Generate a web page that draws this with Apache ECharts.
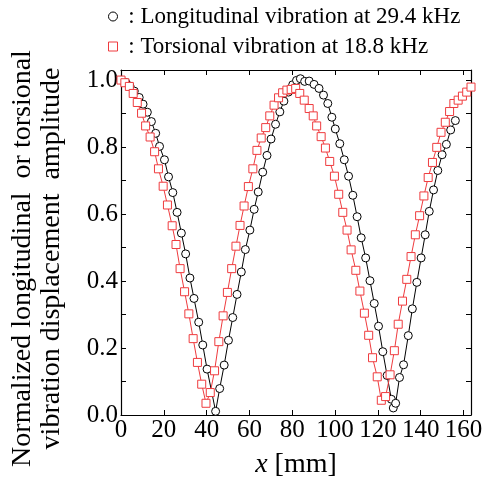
<!DOCTYPE html>
<html><head><meta charset="utf-8">
<script src="https://cdn.jsdelivr.net/npm/echarts@6/dist/echarts.min.js"></script>
<style>html,body{margin:0;padding:0;background:#fff}#c{width:491px;height:484px}</style>
</head><body><div id="c"></div>
<script>
const longName = 'Longitudinal vibration at 29.4 kHz';
const torsName = 'Torsional vibration at 18.8 kHz';
const longX = [0.2,2.2,4.2,6.2,8.5,10.3,12.3,14.2,16.2,18.0,20.3,22.2,24.2,26.2,28.2,30.2,32.2,34.1,36.3,38.2,40.2,44.2,46.1,48.2,50.2,52.2,54.2,56.2,58.1,60.2,62.2,64.1,66.2,68.2,70.1,72.2,74.2,76.1,78.2,80.2,82.0,83.8,85.8,87.9,90.2,92.5,94.6,96.6,98.5,100.1,102.2,104.3,106.3,108.3,110.3,112.2,114.3,116.3,118.3,120.3,122.3,124.3,126.3,127.2,128.3,130.1,132.0,134.2,136.1,138.2,140.2,142.1,144.0,146.0,148.0,150.0,152.0,154.0,156.2];
const longY = [1.000,0.993,0.982,0.967,0.948,0.928,0.904,0.876,0.841,0.802,0.762,0.711,0.664,0.605,0.543,0.481,0.409,0.348,0.277,0.209,0.137,0.011,0.079,0.149,0.223,0.291,0.360,0.427,0.494,0.552,0.614,0.666,0.725,0.775,0.824,0.868,0.905,0.937,0.964,0.986,0.999,1.004,0.996,0.997,0.987,0.975,0.955,0.930,0.889,0.854,0.810,0.762,0.713,0.656,0.592,0.529,0.469,0.401,0.333,0.265,0.189,0.118,0.047,0.021,0.035,0.112,0.150,0.237,0.317,0.396,0.469,0.538,0.608,0.672,0.730,0.777,0.808,0.851,0.879];
const torsX = [0.0,1.8,3.9,5.7,7.6,9.6,11.5,13.6,15.7,17.5,19.7,21.7,23.9,25.7,27.6,29.7,31.7,33.7,35.7,37.7,39.7,41.7,43.7,45.7,47.7,49.7,51.7,53.7,55.6,57.5,59.5,61.6,63.5,65.5,67.6,69.5,71.5,73.6,75.5,77.5,79.5,81.6,83.5,85.6,87.9,89.8,91.4,93.5,95.5,97.5,99.7,101.7,103.6,105.6,107.5,109.7,111.6,113.7,115.7,117.5,119.7,121.6,123.6,125.7,127.7,129.5,131.5,133.5,135.5,137.5,139.5,141.5,143.5,145.5,147.5,149.5,151.5,153.5,155.5,157.5,159.5,161.5,163.5];
const torsY = [1.000,0.992,0.981,0.960,0.933,0.901,0.863,0.830,0.786,0.735,0.683,0.627,0.565,0.509,0.437,0.368,0.302,0.228,0.157,0.092,0.035,0.067,0.132,0.219,0.296,0.366,0.437,0.504,0.566,0.624,0.682,0.735,0.790,0.827,0.858,0.893,0.925,0.947,0.962,0.970,0.972,0.975,0.960,0.940,0.915,0.893,0.863,0.831,0.797,0.757,0.713,0.659,0.605,0.552,0.493,0.432,0.370,0.304,0.238,0.171,0.114,0.044,0.055,0.120,0.192,0.271,0.340,0.405,0.473,0.538,0.595,0.654,0.709,0.754,0.799,0.844,0.874,0.906,0.930,0.940,0.952,0.964,0.979];

const FONT = 'Liberation Serif';
const RED = '#ef3b3e';
const zip = (xs, ys) => xs.map((x, i) => [x, ys[i]]);

const xLabel = v => (Math.abs(v / 20 - Math.round(v / 20)) < 1e-6) ? String(Math.round(v)) : '';
const yLabel = v => {
  const t = v * 10;
  return (Math.abs(t - Math.round(t)) < 1e-6 && Math.round(t) % 2 === 0) ? v.toFixed(1) : '';
};
const axisCommon = {
  axisLine: { show: true, onZero: false, lineStyle: { color: '#000', width: 1.2 } },
  axisTick: { show: true, inside: true, length: 5, lineStyle: { color: '#000', width: 1 } },
  splitLine: { show: false }
};

const chart = echarts.init(document.getElementById('c'), null, { renderer: 'canvas' });
chart.setOption({
  animation: false,
  backgroundColor: '#fff',
  grid: { left: 116, right: 20, top: 70, bottom: 66, containLabel: false },
  legend: {
    orient: 'vertical', left: 108, top: 5, padding: 0, itemGap: 7, itemWidth: 9, itemHeight: 9,
    textStyle: { fontFamily: FONT, fontSize: 23, color: '#000' },
    formatter: n => ' : ' + n,
    data: [
      { name: longName, icon: 'circle', itemStyle: { color: '#fff', borderColor: '#000', borderWidth: 1 } },
      { name: torsName, icon: 'rect', itemStyle: { color: '#fff', borderColor: RED, borderWidth: 1 } }
    ]
  },
  xAxis: [
    Object.assign({
      type: 'value', min: 0, max: 163.5, interval: 20, position: 'bottom',
      axisLabel: { formatter: xLabel, fontFamily: FONT, fontSize: 25, color: '#000', margin: 3 },
      name: '{i|x} [mm]', nameLocation: 'middle', nameGap: 36,
      nameTextStyle: { fontFamily: FONT, fontSize: 28, color: '#000',
        rich: { i: { fontFamily: FONT, fontSize: 28, fontStyle: 'italic', color: '#000' } } }
    }, axisCommon),
    Object.assign({
      type: 'value', min: 0, max: 163.5, interval: 20, position: 'top',
      axisLabel: { show: false }
    }, axisCommon)
  ],
  yAxis: [
    Object.assign({
      type: 'value', min: 0, max: 1.03, interval: 0.1, position: 'left',
      axisLabel: { formatter: yLabel, fontFamily: FONT, fontSize: 25, color: '#000', margin: 3 },
      name: 'Normalized longitudinal  or torsional\nvibration displacement  amplitude',
      nameLocation: 'middle', nameGap: 55, nameRotate: 90,
      nameTextStyle: { fontFamily: FONT, fontSize: 28, color: '#000', lineHeight: 29, align: 'center', padding: [0, 32, 0, 0] }
    }, axisCommon),
    Object.assign({
      type: 'value', min: 0, max: 1.03, interval: 0.1, position: 'right',
      axisLabel: { show: false }
    }, axisCommon)
  ],
  series: [
    {
      name: longName, type: 'line', xAxisIndex: 0, yAxisIndex: 0,
      data: zip(longX, longY),
      symbol: 'circle', symbolSize: 8,
      itemStyle: { color: '#fff', borderColor: '#000', borderWidth: 1 },
      lineStyle: { color: '#000', width: 1 }
    },
    {
      name: torsName, type: 'line', xAxisIndex: 0, yAxisIndex: 0,
      data: zip(torsX, torsY),
      symbol: 'rect', symbolSize: 8,
      itemStyle: { color: '#fff', borderColor: RED, borderWidth: 1 },
      lineStyle: { color: RED, width: 1 }
    }
  ]
});
</script></body></html>
